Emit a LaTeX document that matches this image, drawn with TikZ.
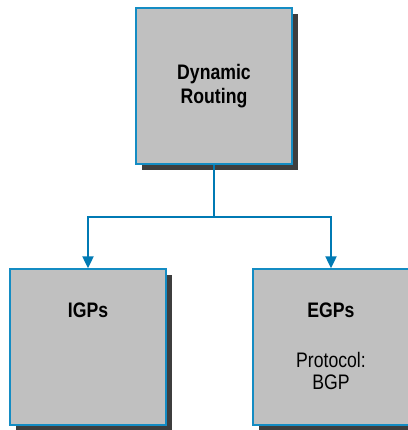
\documentclass[tikz,border=0pt]{standalone}
\usepackage{fontspec}
\setmainfont{Liberation Sans}[FakeStretch=0.84]
\usepackage{xcolor}
\definecolor{boxgray}{RGB}{192, 192, 192}
\definecolor{boxblue}{RGB}{20, 140, 195}
\definecolor{linkblue}{RGB}{0, 122, 180}
\definecolor{shadowgray}{RGB}{62, 62, 62}
\usetikzlibrary{positioning,arrows.meta,shadows}

\begin{document}
\begin{tikzpicture}[x=1pt, y=-1pt,
    routebox/.style={draw=boxblue, line width=1.3pt, fill=boxgray, minimum size=156pt,
        inner sep=0pt, align=center, font=\bfseries\fontsize{21}{23.5}\selectfont,
        drop shadow={shadow xshift=6pt, shadow yshift=-6pt, fill=shadowgray, opacity=1}},
    boxlabel/.style={anchor=base, align=center, font=\fontsize{21}{23}\selectfont},
    link/.style={draw=linkblue, line width=2pt, -{Triangle[width=11pt,length=12pt]}}]
    \useasboundingbox (0, 0) rectangle (407, 430);

    % Top level
    \node[routebox] (dyn) at (214, 86) {Dynamic\\Routing};

    % Protocol families
    \node[routebox] (igp) at (88, 347) {};
    \node[routebox] (egp) at (331, 347) {};

    \node[boxlabel, font=\bfseries\fontsize{21}{23}\selectfont] (igptxt) at (88, 317) {IGPs};
    \node[boxlabel, font=\bfseries\fontsize{21}{23}\selectfont] (egptxt) at (331, 317) {EGPs};
    \node[boxlabel] (proto) at (331, 367) {Protocol:};
    \node[boxlabel] (bgp) at (331, 389) {BGP};

    % Connectors
    \coordinate (split) at (214, 217);
    \draw[draw=linkblue, line width=2pt] (dyn.south) -- (split);
    \draw[link] (split) -| (igp.north);
    \draw[link] (split) -| (egp.north);
\end{tikzpicture}
\end{document}
